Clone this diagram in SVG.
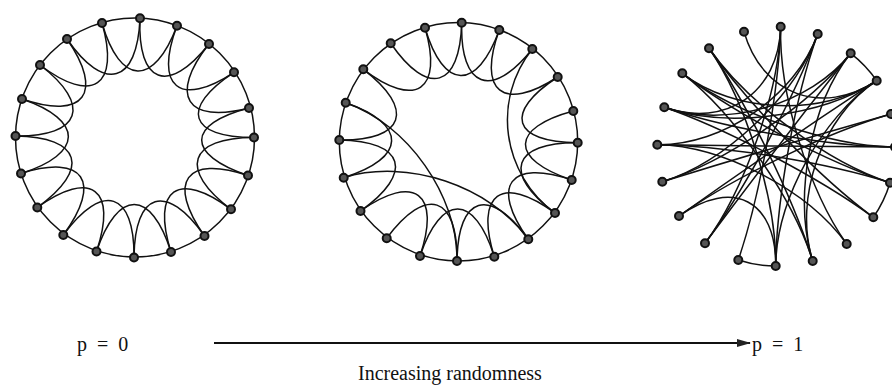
<svg xmlns="http://www.w3.org/2000/svg" width="892" height="388" viewBox="0 0 892 388">
<style>
.e{fill:none;stroke:#111;stroke-width:1.5}
.n{fill:#555;stroke:#111;stroke-width:2}
.t{font-family:"Liberation Serif","DejaVu Serif",serif;fill:#111}
</style>
<defs>
<marker id="ah" markerWidth="14" markerHeight="10" refX="13" refY="5" orient="auto" markerUnits="userSpaceOnUse">
<path d="M0,1 L14,5 L0,9 Z" fill="#222"/>
</marker>
</defs>
<rect width="892" height="388" fill="#fff"/>
<g id="connectors">
<!-- ring 1 -->
<circle class="e" cx="135" cy="137.5" r="119.5"/>
<path class="e" d="M140,18.3 C137.3,83.9 168.3,95.4 209,44"/>
<path class="e" d="M177,25.7 C153.9,87.2 179.6,108.2 234,72.3"/>
<path class="e" d="M209,44 C168.3,95.4 186.3,124.2 249,108"/>
<path class="e" d="M234,72.3 C179.6,108.2 188.6,137.5 254,137.5"/>
<path class="e" d="M249,108 C186.3,124.2 185.9,154.6 248,175.5"/>
<path class="e" d="M254,137.5 C188.6,137.5 178.2,169.8 231,209.3"/>
<path class="e" d="M248,175.5 C185.9,154.6 166.3,181.8 204.5,236"/>
<path class="e" d="M231,209.3 C178.2,169.8 151.2,189 171,252"/>
<path class="e" d="M204.5,236 C166.3,181.8 134.6,191.5 134,257.5"/>
<path class="e" d="M171,252 C151.2,189 117.7,188.8 96.5,251.5"/>
<path class="e" d="M134,257.5 C134.6,191.5 102.7,181.4 63.3,235"/>
<path class="e" d="M96.5,251.5 C117.7,188.8 91,169 37.3,207.5"/>
<path class="e" d="M63.3,235 C102.7,181.4 83.7,153.7 21,173.5"/>
<path class="e" d="M37.3,207.5 C91,169 81.2,136.8 15.5,136"/>
<path class="e" d="M21,173.5 C83.7,153.7 84.2,120.2 22,99"/>
<path class="e" d="M15.5,136 C81.2,136.8 92.3,104.9 40,65"/>
<path class="e" d="M22,99 C84.2,120.2 104.4,93.2 67,39"/>
<path class="e" d="M40,65 C92.3,104.9 120.2,86 102,23"/>
<path class="e" d="M67,39 C104.4,93.2 137.3,83.9 140,18.3"/>
<path class="e" d="M102,23 C120.2,86 153.9,87.2 177,25.7"/>
<!-- ring 2 -->
<circle class="e" cx="458.5" cy="141.8" r="119.2"/>
<path class="e" d="M461.7,22.7 C459.9,88.2 491.7,100 532.3,49"/>
<path class="e" d="M499.3,30 C476.9,91.5 503.1,112.6 557.7,77"/>
<path class="e" d="M557.7,77 C503.1,112.6 512.1,142.2 577.7,142.7"/>
<path class="e" d="M573.3,111 C510.2,128 509.4,159 571.7,180"/>
<path class="e" d="M577.7,142.7 C512.1,142.2 501.9,173.8 555,213"/>
<path class="e" d="M571.7,180 C509.4,159 489.9,185.7 528.3,239.3"/>
<path class="e" d="M555,213 C501.9,173.8 474.6,193.5 494.3,256.7"/>
<path class="e" d="M528.3,239.3 C489.9,185.7 457.8,195.4 457,261"/>
<path class="e" d="M494.3,256.7 C474.6,193.5 441.2,193.2 420,256"/>
<path class="e" d="M457,261 C457.8,195.4 426.2,185.2 386.7,238.3"/>
<path class="e" d="M420,256 C441.2,193.2 414.4,172.9 360.5,211"/>
<path class="e" d="M360.5,211 C414.4,172.9 404.9,141 339.3,140"/>
<path class="e" d="M343.7,177.7 C406.8,158 407.7,124.2 345.7,102.7"/>
<path class="e" d="M339.3,140 C404.9,141 415.7,109.2 363.3,69.3"/>
<path class="e" d="M363.3,69.3 C415.7,109.2 443.4,90.5 425,27.7"/>
<path class="e" d="M390.7,43.3 C428,97.5 459.9,88.2 461.7,22.7"/>
<path class="e" d="M425,27.7 C443.4,90.5 476.9,91.5 499.3,30"/>
<path class="e" d="M345.7,102.7 C407.7,124.2 457.8,195.4 457,261"/>
<path class="e" d="M343.7,177.7 C406.8,158 489.9,185.7 528.3,239.3"/>
<path class="e" d="M532.3,49 C491.7,100 501.9,173.8 555,213"/>
<!-- ring 3 -->
<path class="e" d="M850.7,53.3 A119.7,119.7 0 0 1 876.7,80.7"/>
<path class="e" d="M890,182.7 A119.7,119.7 0 0 1 873.3,217.3"/>
<path class="e" d="M775.7,266 A119.7,119.7 0 0 1 738.3,260"/>
<path class="e" d="M744,31.7 C762.2,94.7 821.9,116.8 876.7,80.7"/>
<path class="e" d="M780.7,26.7 C778.7,92.5 726.3,128.8 664.3,107.3"/>
<path class="e" d="M780.7,26.7 C778.7,92.5 808.4,190.3 846.7,244"/>
<path class="e" d="M817.7,34 C795.3,95.8 723.1,145.6 657.3,144.7"/>
<path class="e" d="M817.7,34 C795.3,95.8 725.4,162.2 662.3,181.7"/>
<path class="e" d="M817.7,34 C795.3,95.8 744.6,190 705,243.3"/>
<path class="e" d="M817.7,34 C795.3,95.8 776.4,200.2 775.7,266"/>
<path class="e" d="M850.7,53.3 C810.2,104.5 726.3,128.8 664.3,107.3"/>
<path class="e" d="M850.7,53.3 C810.2,104.5 725.4,162.2 662.3,181.7"/>
<path class="e" d="M876.7,80.7 C821.9,116.8 726.3,128.8 664.3,107.3"/>
<path class="e" d="M876.7,80.7 C821.9,116.8 734.4,113.5 682.3,73.3"/>
<path class="e" d="M876.7,80.7 C821.9,116.8 793.1,197.9 812.7,261"/>
<path class="e" d="M876.7,80.7 C821.9,116.8 776.4,200.2 775.7,266"/>
<path class="e" d="M891,114 C828.3,131.8 732.9,177.7 679,216"/>
<path class="e" d="M891,114 C828.3,131.8 725.4,162.2 662.3,181.7"/>
<path class="e" d="M895,147 C830.1,146.6 723.1,145.6 657.3,144.7"/>
<path class="e" d="M895,147 C830.1,146.6 726.3,128.8 664.3,107.3"/>
<path class="e" d="M895,147 C830.1,146.6 734.4,113.5 682.3,73.3"/>
<path class="e" d="M890,182.7 C827.9,162.7 734.4,113.5 682.3,73.3"/>
<path class="e" d="M890,182.7 C827.9,162.7 723.1,145.6 657.3,144.7"/>
<path class="e" d="M890,182.7 C827.9,162.7 746.4,102.2 709,48.3"/>
<path class="e" d="M873.3,217.3 C820.3,178.3 746.4,102.2 709,48.3"/>
<path class="e" d="M873.3,217.3 C820.3,178.3 726.3,128.8 664.3,107.3"/>
<path class="e" d="M812.7,261 C793.1,197.9 746.4,102.2 709,48.3"/>
<path class="e" d="M812.7,261 C793.1,197.9 734.4,113.5 682.3,73.3"/>
<path class="e" d="M812.7,261 C793.1,197.9 810.2,104.5 850.7,53.3"/>
<path class="e" d="M775.7,266 C776.4,200.2 746.4,102.2 709,48.3"/>
<path class="e" d="M738.3,260 C759.6,197.5 778.7,92.5 780.7,26.7"/>
<path class="e" d="M705,243.3 C744.6,190 778.7,92.5 780.7,26.7"/>
<path class="e" d="M705,243.3 C744.6,190 810.2,104.5 850.7,53.3"/>
<path class="e" d="M679,216 C732.9,177.7 776.4,200.2 775.7,266"/>
<path class="e" d="M679,216 C732.9,177.7 821.9,116.8 876.7,80.7"/>
<path class="e" d="M657.3,144.7 C723.1,145.6 808.4,190.3 846.7,244"/>
<!-- arrow -->
<path d="M214,343 L750,343" stroke="#111" stroke-width="1.8" fill="none" marker-end="url(#ah)"/>
</g>
<g id="ring1">
<g id="r1n0"><circle class="n" cx="140" cy="18.3" r="4"/></g>
<g id="r1n1"><circle class="n" cx="177" cy="25.7" r="4"/></g>
<g id="r1n2"><circle class="n" cx="209" cy="44" r="4"/></g>
<g id="r1n3"><circle class="n" cx="234" cy="72.3" r="4"/></g>
<g id="r1n4"><circle class="n" cx="249" cy="108" r="4"/></g>
<g id="r1n5"><circle class="n" cx="254" cy="137.5" r="4"/></g>
<g id="r1n6"><circle class="n" cx="248" cy="175.5" r="4"/></g>
<g id="r1n7"><circle class="n" cx="231" cy="209.3" r="4"/></g>
<g id="r1n8"><circle class="n" cx="204.5" cy="236" r="4"/></g>
<g id="r1n9"><circle class="n" cx="171" cy="252" r="4"/></g>
<g id="r1n10"><circle class="n" cx="134" cy="257.5" r="4"/></g>
<g id="r1n11"><circle class="n" cx="96.5" cy="251.5" r="4"/></g>
<g id="r1n12"><circle class="n" cx="63.3" cy="235" r="4"/></g>
<g id="r1n13"><circle class="n" cx="37.3" cy="207.5" r="4"/></g>
<g id="r1n14"><circle class="n" cx="21" cy="173.5" r="4"/></g>
<g id="r1n15"><circle class="n" cx="15.5" cy="136" r="4"/></g>
<g id="r1n16"><circle class="n" cx="22" cy="99" r="4"/></g>
<g id="r1n17"><circle class="n" cx="40" cy="65" r="4"/></g>
<g id="r1n18"><circle class="n" cx="67" cy="39" r="4"/></g>
<g id="r1n19"><circle class="n" cx="102" cy="23" r="4"/></g>
</g>
<g id="ring2">
<g id="r2n0"><circle class="n" cx="461.7" cy="22.7" r="4"/></g>
<g id="r2n1"><circle class="n" cx="499.3" cy="30" r="4"/></g>
<g id="r2n2"><circle class="n" cx="532.3" cy="49" r="4"/></g>
<g id="r2n3"><circle class="n" cx="557.7" cy="77" r="4"/></g>
<g id="r2n4"><circle class="n" cx="573.3" cy="111" r="4"/></g>
<g id="r2n5"><circle class="n" cx="577.7" cy="142.7" r="4"/></g>
<g id="r2n6"><circle class="n" cx="571.7" cy="180" r="4"/></g>
<g id="r2n7"><circle class="n" cx="555" cy="213" r="4"/></g>
<g id="r2n8"><circle class="n" cx="528.3" cy="239.3" r="4"/></g>
<g id="r2n9"><circle class="n" cx="494.3" cy="256.7" r="4"/></g>
<g id="r2n10"><circle class="n" cx="457" cy="261" r="4"/></g>
<g id="r2n11"><circle class="n" cx="420" cy="256" r="4"/></g>
<g id="r2n12"><circle class="n" cx="386.7" cy="238.3" r="4"/></g>
<g id="r2n13"><circle class="n" cx="360.5" cy="211" r="4"/></g>
<g id="r2n14"><circle class="n" cx="343.7" cy="177.7" r="4"/></g>
<g id="r2n15"><circle class="n" cx="339.3" cy="140" r="4"/></g>
<g id="r2n16"><circle class="n" cx="345.7" cy="102.7" r="4"/></g>
<g id="r2n17"><circle class="n" cx="363.3" cy="69.3" r="4"/></g>
<g id="r2n18"><circle class="n" cx="390.7" cy="43.3" r="4"/></g>
<g id="r2n19"><circle class="n" cx="425" cy="27.7" r="4"/></g>
</g>
<g id="ring3">
<g id="r3n0"><circle class="n" cx="780.7" cy="26.7" r="4"/></g>
<g id="r3n1"><circle class="n" cx="817.7" cy="34" r="4"/></g>
<g id="r3n2"><circle class="n" cx="850.7" cy="53.3" r="4"/></g>
<g id="r3n3"><circle class="n" cx="876.7" cy="80.7" r="4"/></g>
<g id="r3n4"><circle class="n" cx="891" cy="114" r="4"/></g>
<g id="r3n5"><circle class="n" cx="895" cy="147" r="4"/></g>
<g id="r3n6"><circle class="n" cx="890" cy="182.7" r="4"/></g>
<g id="r3n7"><circle class="n" cx="873.3" cy="217.3" r="4"/></g>
<g id="r3n8"><circle class="n" cx="846.7" cy="244" r="4"/></g>
<g id="r3n9"><circle class="n" cx="812.7" cy="261" r="4"/></g>
<g id="r3n10"><circle class="n" cx="775.7" cy="266" r="4"/></g>
<g id="r3n11"><circle class="n" cx="738.3" cy="260" r="4"/></g>
<g id="r3n12"><circle class="n" cx="705" cy="243.3" r="4"/></g>
<g id="r3n13"><circle class="n" cx="679" cy="216" r="4"/></g>
<g id="r3n14"><circle class="n" cx="662.3" cy="181.7" r="4"/></g>
<g id="r3n15"><circle class="n" cx="657.3" cy="144.7" r="4"/></g>
<g id="r3n16"><circle class="n" cx="664.3" cy="107.3" r="4"/></g>
<g id="r3n17"><circle class="n" cx="682.3" cy="73.3" r="4"/></g>
<g id="r3n18"><circle class="n" cx="709" cy="48.3" r="4"/></g>
<g id="r3n19"><circle class="n" cx="744" cy="31.7" r="4"/></g>
</g>
<g id="labels">
<text class="t" x="77" y="351" font-size="20" word-spacing="5">p = 0</text>
<text class="t" x="752" y="351" font-size="20" word-spacing="5">p = 1</text>
<text class="t" x="358" y="380" font-size="20">Increasing randomness</text>
</g>
</svg>
